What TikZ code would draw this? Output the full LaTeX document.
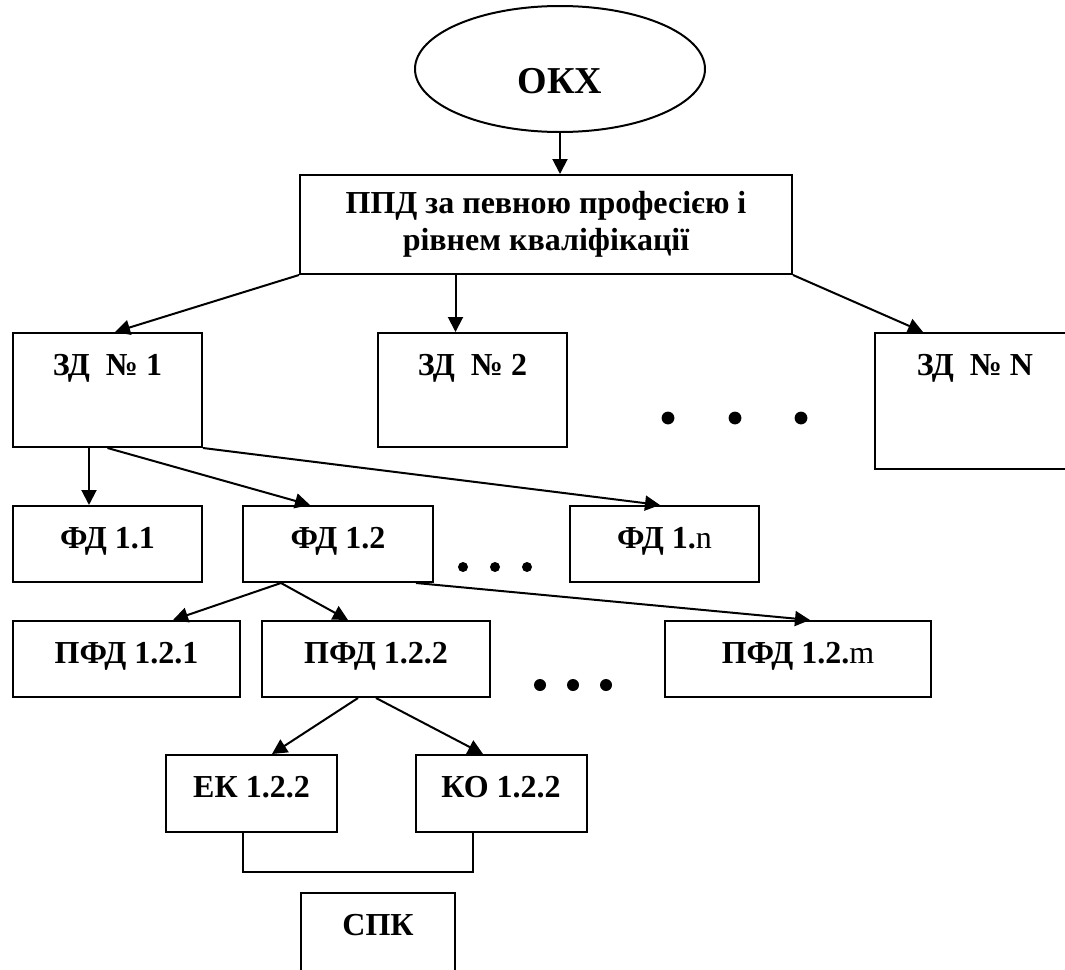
\documentclass[tikz,border=0pt]{standalone}
\usepackage{fontspec}
\setmainfont{Liberation Serif}
\usetikzlibrary{arrows.meta,shapes.geometric}

\tikzset{
  box/.style={draw,rectangle,inner sep=0pt,text height=21pt,font=\fontsize{16}{18.5}\selectfont\bfseries},
  arr/.style={-{Triangle[length=7.5pt,width=7.5pt]}}
}

\begin{document}
\begin{tikzpicture}[x=0.5pt,y=-0.5pt,line width=1pt]
    \useasboundingbox (0,0) rectangle (1065,969);
    \clip (0,0) rectangle (1065,969);

    \node[ellipse,draw,minimum width=145pt,minimum height=63pt,text height=24pt,text depth=0pt,font=\fontsize{19}{22}\selectfont\bfseries] (okx) at (560,69) {ОКХ};
    \node[draw,rectangle,align=center,minimum width=246pt,minimum height=49.5pt,font=\fontsize{16}{18.5}\selectfont\bfseries] (ppd) at (546,224.5) {ППД за певною професією і\\рівнем кваліфікації};

    \node[box,minimum width=94.5pt,text depth=36pt] (zd1) at (107.5,390) {ЗД\ \ № 1};
    \node[box,minimum width=94.5pt,text depth=36pt] (zd2) at (472.5,390) {ЗД\ \ № 2};
    \node[box,minimum width=100pt,text depth=47pt] (zdN) at (975,401) {ЗД\ \ № N};

    \node[box,minimum width=94.5pt,text depth=17pt] (fd11) at (107.5,544) {ФД 1.1};
    \node[box,minimum width=95pt,text depth=17pt] (fd12) at (338,544) {ФД 1.2};
    \node[box,minimum width=94.5pt,text depth=17pt] (fd1n) at (664.5,544) {ФД 1.{\mdseries n}};

    \node[box,minimum width=113.5pt,text depth=17pt] (pfd121) at (126.5,659) {ПФД 1.2.1};
    \node[box,minimum width=114pt,text depth=17pt] (pfd122) at (376,659) {ПФД 1.2.2};
    \node[box,minimum width=133pt,text depth=17pt] (pfd12m) at (798,659) {ПФД 1.2.{\mdseries m}};

    \node[box,minimum width=85.5pt,text depth=17.5pt] (ek) at (251.5,793.5) {ЕК 1.2.2};
    \node[box,minimum width=85.5pt,text depth=17.5pt] (ko) at (501,793.5) {КО 1.2.2};
    \node[box,minimum width=77pt,text depth=29pt] (spk) at (378,943) {СПК};

    \draw[arr] (okx.south) -- (okx.south |- ppd.north);
    \draw[arr] (ppd.south west) -- ([xshift=3.75pt]zd1.north);
    \draw[arr] ([xshift=-8.5pt]zd2.north |- ppd.south) -- ([xshift=-8.5pt]zd2.north);
    \draw[arr] (ppd.south east) -- ([xshift=-26pt]zdN.north);

    \draw[arr] ([xshift=-9.25pt]zd1.south) -- ([xshift=-9.25pt]fd11.north);
    \draw[arr] (zd1.south) -- ([xshift=-14pt]fd12.north);
    \draw[arr] (zd1.south east) -- ([xshift=-2.25pt]fd1n.north);

    \draw[arr] ([xshift=-28.5pt]fd12.south) -- ([xshift=23.25pt]pfd121.north);
    \draw[arr] ([xshift=-28.5pt]fd12.south) -- ([xshift=-14pt]pfd122.north);
    \draw[arr] ([xshift=39pt]fd12.south) -- ([xshift=6pt]pfd12m.north);

    \draw[arr] ([xshift=-9pt]pfd122.south) -- ([xshift=10.25pt]ek.north);
    \draw[arr] (pfd122.south) -- ([xshift=-9pt]ko.north);
    \draw ([xshift=-4.25pt]ek.south) -- ++(0,39) -| ([xshift=-14pt]ko.south);

    % dots
    \foreach \x/\y/\r in {668/418/3.2, 735/418/3.2, 801/418/3.2,
                          463/567/2.5, 495/567/2.5, 527/567/2.5,
                          540/685/3, 573/685/3, 606/685/3}
      \fill (\x,\y) circle (\r pt);
\end{tikzpicture}
\end{document}
